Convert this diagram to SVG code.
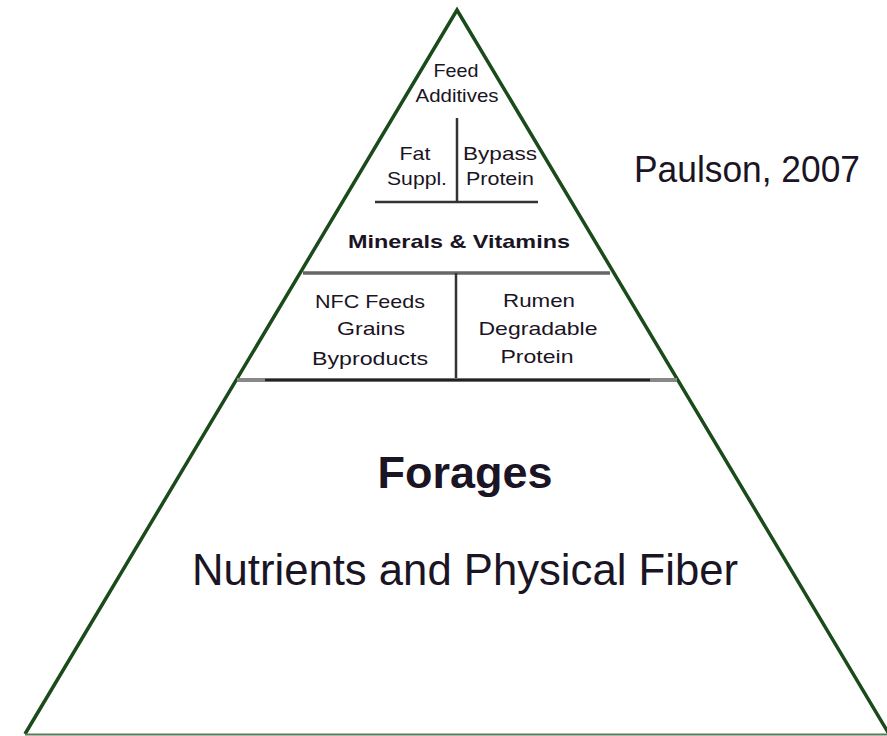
<svg xmlns="http://www.w3.org/2000/svg" width="887" height="736" viewBox="0 0 887 736">
<style>
.t{font-family:"Liberation Sans",Arial,sans-serif;fill:#1a1424;text-anchor:middle}
.s{font-size:19px}
.edge{stroke:#1b4a1b;stroke-width:3.5;fill:none}
.div{stroke:#333;stroke-width:2.5}
</style>
<rect width="887" height="736" fill="#fff"/>
<g id="pyramid">
<polyline class="edge" points="25,734 457,10 889,734"/>
<line x1="25" y1="734.5" x2="887" y2="734.5" stroke="#5a7a5a" stroke-width="2"/>
</g>
<g id="connectors">
<line class="div" x1="457" y1="118" x2="457" y2="203" stroke="#1b3a1b"/>
<line class="div" x1="375" y1="202" x2="538" y2="202"/>
<line x1="303" y1="273" x2="610" y2="273" stroke="#666" stroke-width="3.5"/>
<line class="div" x1="456" y1="273" x2="456" y2="380" stroke="#1b3a1b"/>
<line x1="237" y1="380" x2="677" y2="380" stroke="#888" stroke-width="4"/>
<line x1="265" y1="380" x2="650" y2="380" stroke="#222" stroke-width="2.5"/>
</g>
<g id="feed-additives"><text class="t s" x="456" y="77" textLength="45" lengthAdjust="spacingAndGlyphs">Feed</text><text class="t s" x="457" y="102" textLength="83" lengthAdjust="spacingAndGlyphs">Additives</text></g>
<g id="fat-suppl"><text class="t s" x="415" y="160" textLength="31" lengthAdjust="spacingAndGlyphs">Fat</text><text class="t s" x="417" y="185" textLength="60" lengthAdjust="spacingAndGlyphs">Suppl.</text></g>
<g id="bypass-protein"><text class="t s" x="500" y="160" textLength="74" lengthAdjust="spacingAndGlyphs">Bypass</text><text class="t s" x="500" y="185" textLength="68" lengthAdjust="spacingAndGlyphs">Protein</text></g>
<g id="minerals"><text class="t" x="459" y="248" font-size="19" font-weight="bold" textLength="222" lengthAdjust="spacingAndGlyphs">Minerals &amp; Vitamins</text></g>
<g id="nfc"><text class="t s" x="370" y="308" textLength="110" lengthAdjust="spacingAndGlyphs">NFC Feeds</text><text class="t s" x="371" y="335" textLength="68" lengthAdjust="spacingAndGlyphs">Grains</text><text class="t s" x="370" y="365" textLength="116" lengthAdjust="spacingAndGlyphs">Byproducts</text></g>
<g id="rdp"><text class="t s" x="539" y="307" textLength="72" lengthAdjust="spacingAndGlyphs">Rumen</text><text class="t s" x="538" y="335" textLength="119" lengthAdjust="spacingAndGlyphs">Degradable</text><text class="t s" x="537" y="363" textLength="73" lengthAdjust="spacingAndGlyphs">Protein</text></g>
<g id="forages"><text class="t" x="465" y="488" font-size="44" font-weight="bold" textLength="175" lengthAdjust="spacingAndGlyphs">Forages</text><text class="t" x="465" y="585" font-size="44" textLength="546" lengthAdjust="spacingAndGlyphs">Nutrients and Physical Fiber</text></g>
<g id="citation"><text class="t" x="747" y="182" font-size="37" textLength="226" lengthAdjust="spacingAndGlyphs">Paulson, 2007</text></g>
</svg>
